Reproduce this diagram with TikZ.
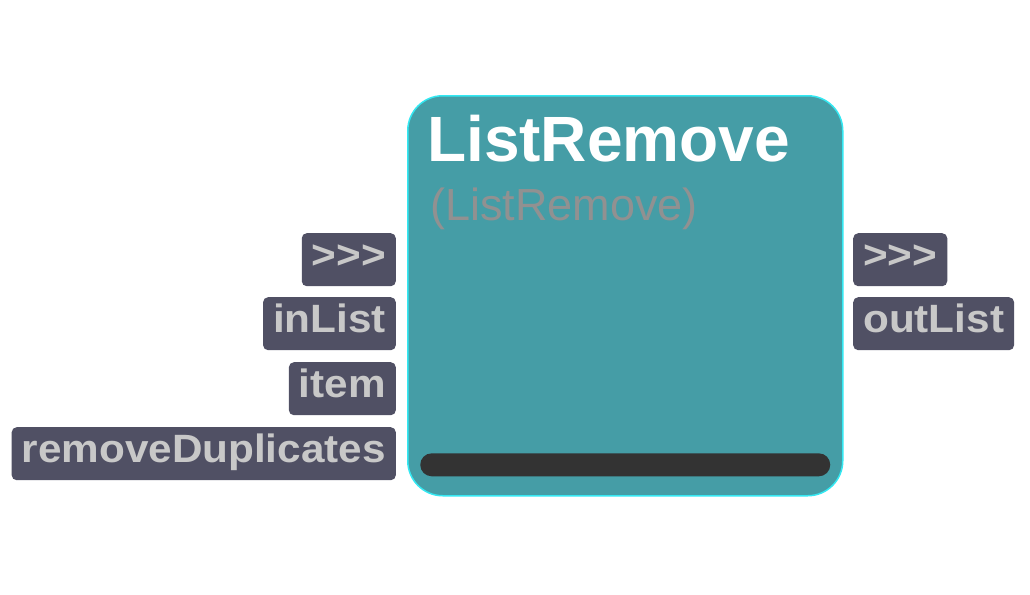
\documentclass[tikz,border=0pt]{standalone}
\usepackage{fontspec}
\setmainfont{Liberation Sans}[Ligatures=TeXOff]
\newfontfamily\portfont{Liberation Sans}[Ligatures=TeXOff, FakeStretch=1.07]
\usetikzlibrary{positioning}

\definecolor{blockteal}{RGB}{69,157,166}
\definecolor{blockedge}{RGB}{52,232,242}
\definecolor{portbg}{RGB}{80,80,100}
\definecolor{porttext}{RGB}{200,200,200}
\definecolor{subgray}{RGB}{145,145,145}
\definecolor{barbg}{RGB}{51,51,51}

\tikzset{
    block/.style={draw=blockedge, line width=1.5pt, fill=blockteal, rounded corners=35pt,
        minimum width=435pt, minimum height=400pt, inner sep=0pt},
    port/.style={fill=portbg, text=porttext, rounded corners=5pt, inner xsep=10pt, inner ysep=0pt,
        text height=35pt, text depth=18pt, font=\portfont\fontsize{39.5}{40}\selectfont\bfseries},
}

\begin{document}
\begin{tikzpicture}[x=1pt, y=-1pt]
    % Page frame
    \path[use as bounding box] (0,0) rectangle (1030,594);

    % The block itself
    \node[block, anchor=north west] (lr) at (407,95) {};
    \node[anchor=base west, text=white, inner sep=0pt, font=\fontsize{64}{64}\selectfont\bfseries] (title) at (427,161) {ListRemove};
    \node[anchor=base west, text=subgray, inner sep=0pt, font=\fontsize{45}{45}\selectfont] (subtitle) at (430,220) {(ListRemove)};
    \node[fill=barbg, rounded corners=11.5pt, minimum width=410pt, minimum height=23pt, inner sep=0pt,
        above=20pt of lr.south] (bar) {};

    % Inputs
    \foreach \txt/\nm/\y in {>>>/in0/233, inList/in1/297, item/in2/362, removeDuplicates/in3/427} {
        \node[port, anchor=north east] (\nm) at (396,\y) {\txt};
    }
    % Outputs
    \foreach \txt/\nm/\y in {>>>/out0/233, outList/out1/297} {
        \node[port, anchor=north west] (\nm) at (853,\y) {\txt};
    }
\end{tikzpicture}
\end{document}
